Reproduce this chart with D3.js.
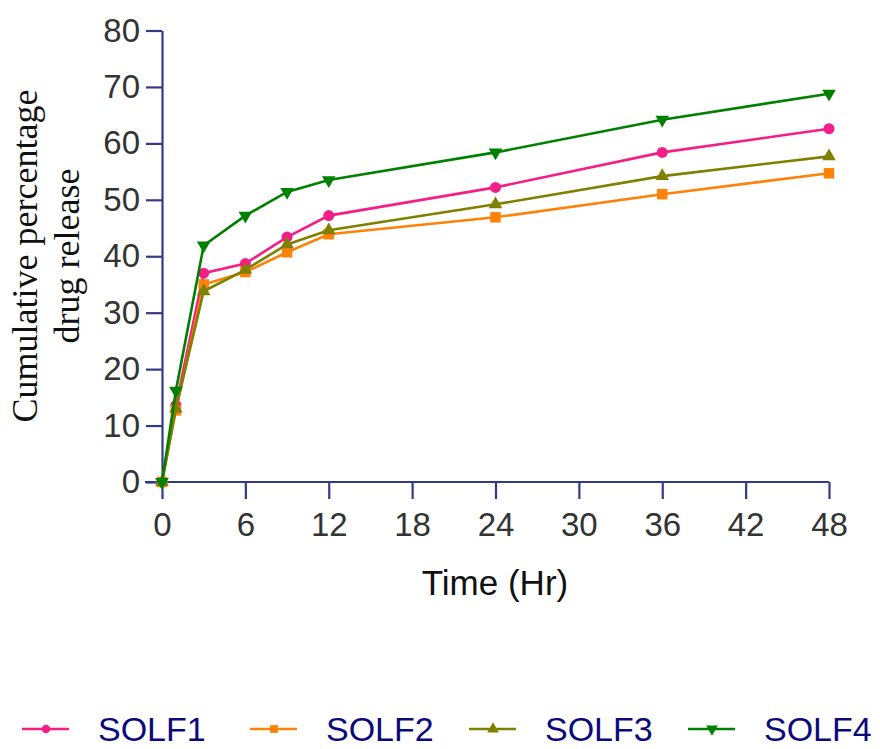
<!DOCTYPE html>
<html>
<head>
<meta charset="utf-8">
<script src="https://cdn.jsdelivr.net/npm/d3@7"></script>
<style>
  body { margin: 0; background: #fff; }
  svg { display: block; }
</style>
</head>
<body>
<div id="chart"></div>
<script>
// data
var hours = [0, 1, 3, 6, 9, 12, 24, 36, 48];
var solf1 = [0, 13.6, 37.0, 38.7, 43.4, 47.2, 52.2, 58.4, 62.6];
var solf2 = [0, 12.7, 35.0, 37.2, 40.7, 43.9, 46.9, 51.0, 54.7];
var solf3 = [0, 13.0, 33.8, 37.6, 42.1, 44.6, 49.2, 54.2, 57.7];
var solf4 = [0, 16.2, 41.9, 47.2, 51.4, 53.5, 58.4, 64.2, 68.8];
var seriesNames = ["SOLF1", "SOLF2", "SOLF3", "SOLF4"];
var xTicks = [0, 6, 12, 18, 24, 30, 36, 42, 48];
var yTicks = [0, 10, 20, 30, 40, 50, 60, 70, 80];

var series = [
  {name: seriesNames[0], values: solf1, color: "#f51d87", shape: "circle"},
  {name: seriesNames[1], values: solf2, color: "#ff8208", shape: "square"},
  {name: seriesNames[2], values: solf3, color: "#808000", shape: "triangle"},
  {name: seriesNames[3], values: solf4, color: "#008000", shape: "down"}
];

var W = 880, H = 749;
var axisColor = "#343a8a";

var svg = d3.select("#chart").append("svg")
  .attr("width", W)
  .attr("height", H);

var x = d3.scaleLinear().domain([0, 48]).range([162, 829]);
var y = d3.scaleLinear().domain([0, 80]).range([482, 30.5]);

// axes
var xAxis = svg.append("g")
  .attr("transform", "translate(0," + y(0) + ")")
  .call(d3.axisBottom(x).tickValues(xTicks).tickSize(17).tickSizeOuter(0).tickPadding(14));
var yAxis = svg.append("g")
  .attr("transform", "translate(" + x(0) + ",0)")
  .call(d3.axisLeft(y).tickValues(yTicks).tickSize(16).tickSizeOuter(0).tickPadding(6));

[xAxis, yAxis].forEach(function(g) {
  g.select(".domain").attr("stroke", axisColor).attr("stroke-width", 2.2);
  g.selectAll(".tick line").attr("stroke", axisColor).attr("stroke-width", 2.2);
  g.selectAll(".tick text")
    .attr("fill", "#333")
    .style("font-family", "'Liberation Sans', Arial, sans-serif")
    .style("font-size", "33px");
});
// x axis line reaches left over the y tick at 0
xAxis.select(".domain").attr("d", "M" + (x(0) - 17) + ",0H" + x(48));

// symbols
function symbolFor(shape, size) {
  var t = {circle: d3.symbolCircle, square: d3.symbolSquare, triangle: d3.symbolTriangle, down: d3.symbolTriangle}[shape];
  return d3.symbol().type(t).size(size)();
}

var line = d3.line()
  .x(function(d, i) { return x(hours[i]); })
  .y(function(d) { return y(d); });

series.forEach(function(s) {
  svg.append("path")
    .attr("d", line(s.values))
    .attr("fill", "none")
    .attr("stroke", s.color)
    .attr("stroke-width", 2.6);

  svg.selectAll(null)
    .data(s.values)
    .enter()
    .append("path")
      .attr("d", symbolFor(s.shape, s.shape == "circle" ? 95 : (s.shape == "square" ? 110 : 80)))
      .attr("transform", function(d, i) {
        return "translate(" + x(hours[i]) + "," + y(d) + ")" + (s.shape == "down" ? " rotate(180)" : "");
      })
      .attr("fill", s.color);
});

// axis titles
svg.append("text")
  .attr("x", 495)
  .attr("y", 595)
  .attr("text-anchor", "middle")
  .style("font-family", "'Liberation Sans', Arial, sans-serif")
  .style("font-size", "35px")
  .attr("fill", "#111")
  .text("Time (Hr)");

var yLabel = ["Cumulative percentage", "drug release"];
yLabel.forEach(function(t, i) {
  svg.append("text")
    .attr("transform", "translate(" + (37 + i * 42) + ",256) rotate(-90)")
    .attr("text-anchor", "middle")
    .style("font-family", "'Liberation Serif', 'Times New Roman', serif")
    .style("font-size", "36px")
    .attr("fill", "#111")
    .text(t);
});

// legend
var legendX = [22, 250, 469, 688];
var legend = svg.selectAll(".legend")
  .data(series)
  .enter()
  .append("g")
    .attr("class", "legend")
    .attr("transform", function(d, i) { return "translate(" + legendX[i] + ",729)"; });

legend.append("line")
  .attr("x1", 0).attr("x2", 47)
  .attr("stroke", function(d) { return d.color; })
  .attr("stroke-width", 2.6);
legend.append("path")
  .attr("d", function(d) { return symbolFor(d.shape, d.shape == "circle" ? 55 : 60); })
  .attr("transform", function(d) { return "translate(24,0)" + (d.shape == "down" ? " rotate(180)" : ""); })
  .attr("fill", function(d) { return d.color; });
legend.append("text")
  .attr("x", 76)
  .attr("y", 12)
  .style("font-family", "'Liberation Sans', Arial, sans-serif")
  .style("font-size", "34px")
  .attr("fill", "#0a0a7d")
  .text(function(d) { return d.name; });
</script>
</body>
</html>
